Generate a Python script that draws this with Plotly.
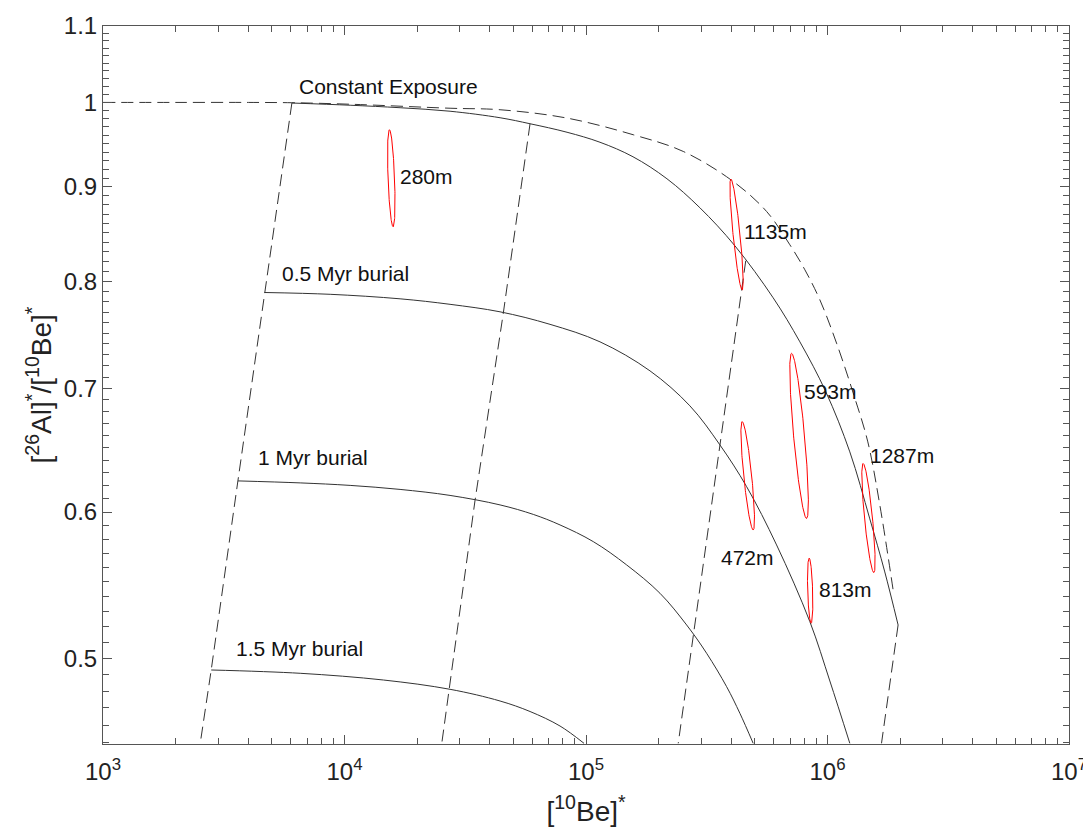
import numpy as np
import plotly.graph_objects as go

# ---------------- data ----------------
# Constant exposure curve  ([10Be]*, [26Al]*/[10Be]*)
const_x = [1e3, 2e3, 4e3, 6055, 10553, 27360, 44065, 83220, 156930, 252740, 406900,
           559530, 698520, 805990, 929700, 1.0900e6, 1.2976e6, 1.4688e6, 1.6466e6, 1.8697e6]
const_y = [1.0, 1.0, 1.0, 0.99963, 0.99776, 0.99279, 0.99093, 0.98073, 0.96050, 0.94070,
           0.90614, 0.87285, 0.83734, 0.81161, 0.78180, 0.74069, 0.69159, 0.65487,
           0.60537, 0.54446]

# Steady erosion curves for burial times 0, 0.5, 1, 1.5 Myr
bur0_x = [6055, 10553, 16990, 27360, 44065, 58650, 83460, 114270, 156500, 216400,
          296300, 413500, 595700, 768500, 984400, 1.2371e6, 1.4970e6, 1.7267e6, 1.9604e6]
bur0_y = [0.99925, 0.99651, 0.99341, 0.98908, 0.98109, 0.97378, 0.96350, 0.95156,
          0.93450, 0.90919, 0.87689, 0.83629, 0.78376, 0.74189, 0.69703, 0.64676,
          0.59489, 0.55683, 0.52120]

bur05_x = [4665, 8724, 16990, 27360, 44065, 70960, 114270, 184040, 269350, 358480,
           462380, 615320, 845220, 1.0227e6, 1.2371e6]
bur05_y = [0.78896, 0.78719, 0.78278, 0.77743, 0.77019, 0.75827, 0.74189, 0.71553,
           0.68496, 0.65243, 0.61935, 0.57590, 0.52335, 0.48603, 0.44968]

bur1_x = [3619, 6554, 10553, 16990, 27360, 44065, 60516, 78058, 107200, 147370,
          202410, 261020, 315840, 382220, 433770, 492320]
bur1_y = [0.62377, 0.62222, 0.62028, 0.61719, 0.61259, 0.60537, 0.59824, 0.59045,
          0.57828, 0.56171, 0.54222, 0.52120, 0.50312, 0.48258, 0.46683, 0.44968]

bur15_x = [2806, 6554, 14494, 27360, 44065, 58650, 78058, 98112]
bur15_y = [0.49274, 0.49072, 0.48663, 0.48102, 0.47405, 0.46788, 0.45949, 0.44968]

# Iso-erosion (dashed) lines
isoA_x = [6055, 4665, 3619, 2806, 2527]
isoA_y = [0.99925, 0.78896, 0.62377, 0.49274, 0.44968]
isoB_x = [58650, 45485, 34725, 27183, 25283]
isoB_y = [0.97378, 0.76942, 0.60901, 0.48102, 0.44968]
isoC_x = [458550, 358480, 278480, 240960]
isoC_y = [0.82078, 0.65243, 0.51474, 0.44968]
isoD_x = [1.9604e6, 1.6735e6]
isoD_y = [0.52120, 0.44968]

# Samples: top and bottom of each error ellipse, horizontal half width (log10 units)
sample_names = ["280m", "1135m", "593m", "472m", "1287m", "813m"]
ell_top_x = [15350, 398100, 710100, 443400, 1.4046e6, 839600]
ell_top_y = [0.96652, 0.90875, 0.73133, 0.67163, 0.63746, 0.56647]
ell_bot_x = [15900, 443400, 819000, 492400, 1.5553e6, 855700]
ell_bot_y = [0.85630, 0.79146, 0.59520, 0.58673, 0.55638, 0.52233]
ell_halfwidth = [0.0135, 0.0145, 0.0228, 0.0166, 0.0166, 0.0103]

# Text labels (anchor at left-middle of text)
label_text = ["Constant Exposure", "0.5 Myr burial", "1 Myr burial", "1.5 Myr burial",
              "280m", "1135m", "593m", "1287m", "472m", "813m"]
label_x = [6350, 5417, 4309, 3471, 16630, 441000, 780800, 1.4689e6, 355200, 900800]
label_y = [1.0202, 0.80829, 0.64226, 0.50626, 0.91189, 0.85148, 0.69710, 0.64411,
           0.56668, 0.54448]

x_tickvals = [1e3, 1e4, 1e5, 1e6, 1e7]
x_ticktext = ["10<sup>3</sup>", "10<sup>4</sup>", "10<sup>5</sup>", "10<sup>6</sup>", "10<sup>7</sup>"]
y_tickvals = [0.5, 0.6, 0.7, 0.8, 0.9, 1.0, 1.1]
y_ticktext = ["0.5", "0.6", "0.7", "0.8", "0.9", "1", "1.1"]

# ---------------- figure ----------------
FONT = "Liberation Sans, Arial, Helvetica, sans-serif"
LINE = "#333333"
AXC = "#555555"
DASH = "12px,6px"

fig = go.Figure()

def add_line(x, y, dash=None, shape="spline"):
    line = dict(color=LINE, width=1, dash=dash, shape=shape)
    if shape == "spline":
        line["smoothing"] = 1.0
    fig.add_trace(go.Scatter(x=x, y=y, mode="lines", showlegend=False, hoverinfo="skip",
                             line=line))

add_line(const_x, const_y, dash=DASH)
for xs, ys in [(bur0_x, bur0_y), (bur05_x, bur05_y), (bur1_x, bur1_y), (bur15_x, bur15_y)]:
    add_line(xs, ys)
for xs, ys in [(isoA_x, isoA_y), (isoB_x, isoB_y), (isoC_x, isoC_y), (isoD_x, isoD_y)]:
    add_line(xs, ys, dash=DASH, shape="linear")

t = np.linspace(0, 2 * np.pi, 181)
for i in range(len(sample_names)):
    lx0, ly0 = np.log10(ell_top_x[i]), np.log10(ell_top_y[i])
    lx1, ly1 = np.log10(ell_bot_x[i]), np.log10(ell_bot_y[i])
    cx, cy = (lx0 + lx1) / 2, (ly0 + ly1) / 2
    ax, ay = (lx0 - lx1) / 2, (ly0 - ly1) / 2
    ex = 10 ** (cx + ax * np.cos(t) + ell_halfwidth[i] * np.sin(t))
    ey = 10 ** (cy + ay * np.cos(t))
    fig.add_trace(go.Scatter(x=ex, y=ey, mode="lines", showlegend=False, name=sample_names[i],
                             line=dict(color="#ff0000", width=1)))

for txt, lx, ly in zip(label_text, label_x, label_y):
    fig.add_annotation(x=np.log10(lx), y=np.log10(ly), text=txt, showarrow=False,
                       xanchor="left", yanchor="middle",
                       font=dict(family=FONT, size=21, color="#111111"))

y_minor = [round(0.45 + 0.01 * k, 2) for k in range(65)]
x_minor = [m * 10 ** e for e in range(3, 7) for m in range(2, 10)]

fig.update_xaxes(type="log", range=[3, 7], tickmode="array", tickvals=x_tickvals,
                 ticktext=x_ticktext, ticks="inside", ticklen=9, tickwidth=1, tickcolor=AXC,
                 ticklabelstandoff=6, automargin=False,
                 minor=dict(tickmode="array", tickvals=x_minor, ticks="inside", ticklen=6,
                            tickwidth=1, tickcolor=AXC, showgrid=False),
                 showline=True, linecolor=AXC, linewidth=1, mirror="allticks", showgrid=False,
                 zeroline=False, tickfont=dict(family=FONT, size=24, color="#222222"),
                 title=dict(text="[<sup>10</sup>Be]<sup>*</sup>", standoff=18,
                            font=dict(family=FONT, size=28, color="#222222")))
fig.update_yaxes(type="log", range=[np.log10(0.4493), np.log10(1.1)], tickmode="array",
                 tickvals=y_tickvals, ticktext=y_ticktext, ticks="inside", ticklen=9,
                 tickwidth=1, tickcolor=AXC, automargin=False,
                 minor=dict(tickmode="array", tickvals=y_minor, ticks="inside", ticklen=6,
                            tickwidth=1, tickcolor=AXC, showgrid=False),
                 showline=True, linecolor=AXC, linewidth=1, mirror="allticks", showgrid=False,
                 zeroline=False, tickfont=dict(family=FONT, size=24, color="#222222"),
                 title=dict(text="[<sup>26</sup>Al]<sup>*</sup>/[<sup>10</sup>Be]<sup>*</sup>",
                            standoff=4, font=dict(family=FONT, size=28, color="#222222")))

# the page body adds an 8 px margin, so margins are shifted by 8 px to keep the plot in place
fig.update_layout(width=1091, height=819, margin=dict(l=95, r=30, t=18, b=83),
                  paper_bgcolor="white", plot_bgcolor="white", showlegend=False)

fig.write_html("out.html")
